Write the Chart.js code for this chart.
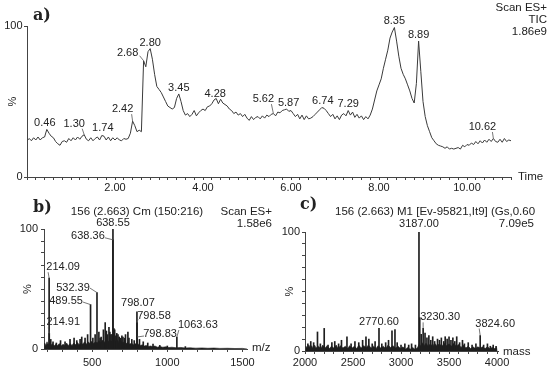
<!DOCTYPE html>
<html>
<head>
<meta charset="utf-8">
<style>
  html, body { margin: 0; padding: 0; background: #fff; }
  #wrap { position: relative; width: 550px; height: 372px; overflow: hidden; }
  canvas { position: absolute; }
  #ca { left: 0; top: 0; }
  #cb { left: 0; top: 190px; }
  #cc { left: 275px; top: 190px; }
</style>
<script src="https://cdn.jsdelivr.net/npm/chart.js@4"></script>
</head>
<body>
<div id="wrap">
  <canvas id="ca" width="550" height="200"></canvas>
  <canvas id="cb" width="275" height="182"></canvas>
  <canvas id="cc" width="275" height="182"></canvas>
</div>
<script>
// a) TIC chromatogram, time (min) vs %
const aTime = [
  0.00, 0.05, 0.10, 0.15, 0.20, 0.25, 0.30, 0.35, 0.40, 0.45,
  0.50, 0.55, 0.60, 0.65, 0.70, 0.75, 0.80, 0.85, 0.90, 0.95,
  1.00, 1.05, 1.10, 1.15, 1.20, 1.25, 1.30, 1.35, 1.40, 1.45,
  1.50, 1.55, 1.60, 1.65, 1.70, 1.75, 1.80, 1.85, 1.90, 1.95,
  2.00, 2.05, 2.10, 2.15, 2.20, 2.25, 2.30, 2.35, 2.40, 2.45,
  2.50, 2.55, 2.60, 2.65, 2.70, 2.75, 2.80, 2.85, 2.90, 2.95,
  3.00, 3.05, 3.10, 3.15, 3.20, 3.25, 3.30, 3.35, 3.40, 3.45,
  3.50, 3.55, 3.60, 3.65, 3.70, 3.75, 3.80, 3.85, 3.90, 3.95,
  4.00, 4.05, 4.10, 4.15, 4.20, 4.25, 4.30, 4.35, 4.40, 4.45,
  4.50, 4.55, 4.60, 4.65, 4.70, 4.75, 4.80, 4.85, 4.90, 4.95,
  5.00, 5.05, 5.10, 5.15, 5.20, 5.25, 5.30, 5.35, 5.40, 5.45,
  5.50, 5.55, 5.60, 5.65, 5.70, 5.75, 5.80, 5.85, 5.90, 5.95,
  6.00, 6.05, 6.10, 6.15, 6.20, 6.25, 6.30, 6.35, 6.40, 6.45,
  6.50, 6.55, 6.60, 6.65, 6.70, 6.75, 6.80, 6.85, 6.90, 6.95,
  7.00, 7.05, 7.10, 7.15, 7.20, 7.25, 7.30, 7.35, 7.40, 7.45,
  7.50, 7.55, 7.60, 7.65, 7.70, 7.75, 7.80, 7.85, 7.90, 7.95,
  8.00, 8.05, 8.10, 8.15, 8.20, 8.25, 8.30, 8.35, 8.40, 8.45,
  8.50, 8.55, 8.60, 8.65, 8.70, 8.75, 8.80, 8.85, 8.90, 8.95,
  9.00, 9.05, 9.10, 9.15, 9.20, 9.25, 9.30, 9.35, 9.40, 9.45,
  9.50, 9.55, 9.60, 9.65, 9.70, 9.75, 9.80, 9.85, 9.90, 9.95,
  10.00, 10.05, 10.10, 10.15, 10.20, 10.25, 10.30, 10.35, 10.40, 10.45,
  10.50, 10.55, 10.60, 10.65, 10.70, 10.75, 10.80, 10.85, 10.90, 10.95,
  11.00
];
const aPct = [
  24, 25.5, 24, 26, 24.5, 26.5, 24.5, 26, 26.5, 31.5,
  29, 27, 26, 23.5, 22, 21, 23.5, 24, 23, 25.5,
  24, 26, 24.5, 26.5, 25, 27, 28, 25, 24, 26,
  24, 25.5, 26.5, 24.5, 27.5, 27, 24.5, 26.5, 24, 26,
  24.5, 26, 24.5, 24, 25.5, 25, 25.5, 29, 37, 34,
  30, 31, 30, 77, 73, 83, 85, 78, 68, 60,
  58, 56, 53, 50, 47, 46, 45, 46, 52, 55,
  50, 44, 41, 42, 40, 41.5, 44, 40.5, 42.5, 44,
  45, 44, 46.5, 47, 48.5, 51, 52, 48.5, 51.5, 49,
  48, 47, 45, 44, 42, 43, 41, 42, 40, 41.5,
  39, 37.5, 40, 38, 39.5, 40, 38.5, 40.5, 39, 41,
  40, 41.5, 42, 40.5, 43, 42.5, 44, 44.5, 45, 43.5,
  44, 42, 40, 41.5, 38.5, 41, 38, 40.5, 38.5, 39,
  40, 41.5, 43, 44.5, 46, 45.5, 44, 42, 40, 41.5,
  38.5, 40.5, 38, 41, 42, 40.5, 44, 41, 43, 39.5,
  41.5, 39, 40.5, 38, 40, 38.5, 41, 45, 51, 57,
  61, 65, 72, 78, 84, 92, 96, 99, 90, 80,
  72, 68, 65, 61, 57, 52, 49, 62, 90, 70,
  50, 40, 34, 30, 26, 24, 22, 21, 20.5, 20,
  19, 20, 18.5, 19, 18.5, 19, 19.5, 18.5, 21, 20,
  21.5, 21, 22.5, 21.5, 23.5, 22, 24, 22.5, 24.5, 23,
  25, 23.5, 25.5, 23.5, 23, 25, 23, 25.5, 23.5, 24.5,
  24
];
const aXLabels = [2, 4, 6, 8, 10];

// b) ES+ spectrum, m/z vs %
const bMz = [214.09, 214.91, 225, 240, 262, 290, 320, 353, 380, 398,
  420, 431, 453, 470, 489.55, 505, 520, 532.39, 545, 553,
  560, 575, 587, 595, 602, 612, 618, 625, 632, 638.36,
  638.55, 645, 650, 658, 664, 672, 680, 690, 698, 705,
  715, 722, 738, 745, 764, 780, 798.07, 798.58, 798.83, 815,
  840, 870, 905, 950, 1000, 1063.63, 1120];
const bInt = [59, 13, 8, 6, 5, 7, 6, 8, 9, 7,
  8, 10, 9, 12, 37, 9, 12, 47, 14, 9,
  10, 16, 22, 15, 12, 18, 14, 12, 12, 91,
  100, 17, 16, 11, 13, 12, 10, 9, 11, 10,
  9, 12, 14, 9, 8, 7, 31, 22, 10, 8,
  6, 5, 4, 3, 2.5, 10, 2];
const bNoiseMz = [180, 184, 192, 200, 208, 216, 226, 236, 246, 258, 270, 282, 294, 306, 318,
  330, 342, 354, 366, 378, 390, 402, 414, 426, 438, 450, 462, 474, 486, 498,
  510, 522, 534, 546, 558, 570, 582, 594, 606, 618, 630, 642, 654, 666, 678,
  690, 702, 714, 726, 738, 750, 762, 774, 786, 798, 810, 822, 834, 846, 860,
  874, 888, 902, 918, 934, 950, 970, 990, 1010, 1030, 1060, 1090, 1120, 1150, 1190,
  1230, 1270, 1310, 1350, 1400, 1450, 1500, 1530];
const bNoise = [0, 5, 3, 6, 3.5, 5, 3, 4.5, 2.5, 4, 3, 4.5, 2.5, 4, 3,
  5, 3, 4.5, 3, 5, 3.5, 5.5, 3.5, 5, 4, 6, 4, 6, 4.5, 6.5,
  4.5, 6, 5, 7, 5, 7.5, 5.5, 8, 6, 7.5, 6, 9, 6.5, 8, 5.5,
  7, 5, 6, 4.5, 5.5, 4, 5, 3.5, 4.5, 3.5, 4, 3, 3.5, 2.5, 3,
  2, 2.5, 2, 2.5, 1.5, 2, 1.5, 1.8, 1.2, 1.5, 1, 1.3, 0.8, 1, 0.7,
  0.9, 0.6, 0.8, 0.5, 0.6, 0.4, 0.5, 0];
const bXLabels = [500, 1000, 1500];

// c) deconvoluted (M1) spectrum, mass vs %
const cMass = [2030, 2060, 2090, 2130, 2160, 2200, 2240, 2280, 2310, 2350,
  2380, 2437, 2480, 2520, 2560, 2600, 2635, 2665, 2700, 2730,
  2770.6, 2800, 2840, 2870, 2906, 2937, 2960, 3000, 3040, 3080,
  3110, 3150, 3187, 3195, 3210, 3230.3, 3250, 3270, 3290, 3310,
  3330, 3350, 3380, 3400, 3420, 3445, 3460, 3480, 3500, 3520,
  3540, 3560, 3580, 3610, 3640, 3660, 3700, 3740, 3780, 3824.6,
  3860, 3900, 3930, 3960, 3990];
const cInt = [6, 8, 7, 16, 6, 19, 5, 7, 8, 6,
  9, 12, 6, 8, 7, 9, 12, 10, 6, 8,
  19, 6, 7, 9, 17, 18, 7, 5, 6, 5,
  6, 5, 100, 28, 14, 19, 15, 11, 13, 9,
  12, 8, 10, 9, 11, 8, 12, 10, 12, 9,
  11, 8, 12, 7, 9, 6, 7, 5, 6, 13,
  5, 6, 4, 5, 4];
const cNoiseMass = [2000, 2010, 2025, 2040, 2055, 2070, 2085, 2100, 2115, 2140, 2165, 2185, 2210, 2230, 2255,
  2275, 2300, 2325, 2345, 2370, 2395, 2420, 2445, 2465, 2490, 2515, 2540, 2560, 2585, 2610,
  2640, 2660, 2690, 2715, 2740, 2760, 2790, 2815, 2840, 2865, 2890, 2915, 2945, 2970, 2995,
  3020, 3045, 3070, 3095, 3120, 3145, 3170, 3190, 3205, 3220, 3240, 3260, 3285, 3305, 3330,
  3350, 3375, 3400, 3425, 3450, 3475, 3500, 3525, 3550, 3575, 3600, 3625, 3650, 3675, 3700,
  3725, 3750, 3775, 3800, 3825, 3850, 3875, 3900, 3925, 3950, 3975, 3995, 4000];
const cNoise = [0, 4, 2, 5, 2.5, 4.5, 2, 5, 2.5, 4, 2, 5, 2.5, 4.5, 2,
  4, 2.5, 5, 2, 4.5, 2.5, 4, 2, 4.5, 2.5, 4, 2, 5, 2.5, 4.5,
  3, 5, 2.5, 4, 2, 4.5, 2.5, 4, 2, 5, 3, 4.5, 2.5, 4, 2,
  3.5, 1.5, 3, 1.5, 3, 1.5, 2.5, 6, 4, 7, 4.5, 6.5, 4, 6, 4,
  6.5, 4.5, 6, 4, 6.5, 4.5, 6, 4, 6.5, 4, 5.5, 3, 5, 2.5, 4,
  2, 3.5, 2, 3.5, 2.5, 3.5, 2, 3.5, 2, 3, 2, 3, 0];
const cXLabels = [2000, 2500, 3000, 3500, 4000];

const pctTicks = [0, 10, 20, 30, 40, 50, 60, 70, 80, 90, 100];

const AXIS = '#444';
const INK = '#1e1e1e';
const LABEL_FONT = '11px "Liberation Sans", Arial, sans-serif';
const HEAD_FONT = '11.5px "Liberation Sans", Arial, sans-serif';
const LETTER_FONT = 'bold 16px "DejaVu Serif", serif';

Chart.defaults.font.family = '"Liberation Sans", Arial, sans-serif';
Chart.defaults.font.size = 11;
Chart.defaults.color = '#222';

function nearest(xs, ys, x) {
  let best = 0;
  xs.forEach((v, i) => { if (Math.abs(v - x) < Math.abs(xs[best] - x)) best = i; });
  return ys[best];
}

// peak labels + free text, drawn on top of each chart
function labelPlugin(peaks, texts, xs, ys) {
  return {
    id: 'peakText',
    afterDraw(chart) {
      const ctx = chart.ctx, sx = chart.scales.x, sy = chart.scales.y, area = chart.chartArea;
      ctx.save();
      ctx.fillStyle = '#222';
      ctx.strokeStyle = '#555';
      ctx.lineWidth = 0.8;
      ctx.textBaseline = 'middle';
      ctx.font = LABEL_FONT;
      ctx.textAlign = 'center';
      peaks.forEach(p => {
        const val = p.y !== undefined ? p.y : nearest(xs, ys, p.at);
        const px = sx.getPixelForValue(p.at), py = sy.getPixelForValue(val);
        const tx = px + p.dx, ty = py + p.dy;
        if (p.lead) {
          ctx.beginPath();
          ctx.moveTo(tx + p.lead[0], ty + p.lead[1]);
          ctx.lineTo(px, py);
          ctx.stroke();
        }
        ctx.fillText(p.text, tx, ty);
      });
      texts.forEach(t => {
        ctx.font = t.font || HEAD_FONT;
        ctx.textAlign = t.align || 'left';
        let x = t.x, y = t.y;
        if (t.corner) { x = area.right + t.x; y = area.bottom + t.y; }
        ctx.save();
        if (t.clip) { ctx.beginPath(); ctx.rect(0, 0, t.clip, chart.height); ctx.clip(); }
        ctx.fillText(t.text, x, y);
        ctx.restore();
      });
      ctx.restore();
    }
  };
}

function xScale(min, max, height, pad, ticks, fmt) {
  return {
    type: 'linear', min, max, offset: false,
    afterFit: s => { s.height = height; },
    afterBuildTicks: s => { s.ticks = ticks.map(v => ({ value: v })); },
    ticks: { autoSkip: false, maxRotation: 0, padding: pad, callback: fmt },
    grid: { drawOnChartArea: false, offset: false, tickLength: 3, color: AXIS },
    border: { color: AXIS }
  };
}

function yScale(width, pad, titlePad, ticks) {
  return {
    min: 0, max: 100,
    afterFit: s => { s.width = width; },
    afterBuildTicks: s => { s.ticks = ticks.map(v => ({ value: v })); },
    ticks: { autoSkip: false, padding: pad, callback: v => (v === 0 || v === 100) ? String(v) : '' },
    grid: { drawOnChartArea: false, tickLength: 3, color: AXIS },
    border: { color: AXIS },
    title: { display: true, text: '%', padding: titlePad, font: { size: 11 } }
  };
}

const baseOptions = {
  responsive: false,
  animation: false,
  events: [],
  plugins: { legend: { display: false }, tooltip: { enabled: false } }
};

// ---- a)
const aTicks = [];
for (let i = 0; i <= 55; i++) aTicks.push(Math.round(i * 2) / 10);

const aPeaks = [
  { text: '0.46', at: 0.45, dx: -2, dy: -6 },
  { text: '1.30', at: 1.30, dx: -10, dy: -11, lead: [8, 5] },
  { text: '1.74', at: 1.70, dx: 1, dy: -7.5 },
  { text: '2.42', at: 2.40, dx: -10, dy: -12, lead: [9, 5] },
  { text: '2.68', at: 2.65, dx: -16, dy: -8, lead: [12, 3] },
  { text: '2.80', at: 2.80, dx: 0, dy: -6 },
  { text: '3.45', at: 3.45, dx: 0, dy: -6 },
  { text: '4.28', at: 4.30, dx: -1, dy: -5 },
  { text: '5.62', at: 5.60, dx: -10, dy: -14.5, lead: [8, 5] },
  { text: '5.87', at: 5.90, dx: 2, dy: -6 },
  { text: '6.74', at: 6.70, dx: 1, dy: -6.5 },
  { text: '7.29', at: 7.30, dx: 0, dy: -6.5 },
  { text: '8.35', at: 8.35, dx: 0, dy: -7 },
  { text: '8.89', at: 8.90, dx: 0, dy: -6 },
  { text: '10.62', at: 10.60, dx: -11, dy: -11.5, lead: [10, 5] }
];
const aTexts = [
  { text: 'a)', x: 33, y: 16, font: LETTER_FONT },
  { text: 'Scan ES+', x: 547, y: 8, align: 'right' },
  { text: 'TIC', x: 547, y: 20, align: 'right' },
  { text: '1.86e9', x: 547, y: 32, align: 'right' },
  { text: 'Time', corner: true, x: 7, y: 0 }
];

new Chart(document.getElementById('ca'), {
  type: 'line',
  data: {
    datasets: [{
      data: aTime.map((t, i) => ({ x: t, y: aPct[i] })),
      borderColor: '#3a3a3a', borderWidth: 1, pointRadius: 0, tension: 0, fill: false
    }]
  },
  options: {
    ...baseOptions,
    layout: { autoPadding: false, padding: { left: 0, top: 26, right: 39, bottom: 0 } },
    scales: {
      x: xScale(0, 11, 23, 1.5, aTicks, v => aXLabels.includes(v) ? v.toFixed(2) : ''),
      y: yScale(27, 1.5, 6.4, [0, 100])
    }
  },
  plugins: [labelPlugin(aPeaks, aTexts, aTime, aPct)]
});

// ---- b)
const bTicks = [];
for (let v = 200; v <= 1500; v += 100) bTicks.push(v);

const bPeaks = [
  { text: '638.55', at: 638.55, dx: 0, dy: -6 },
  { text: '638.36', at: 638.36, dx: -25, dy: -4, lead: [17, 2] },
  { text: '214.09', at: 214.09, dx: 14, dy: -11, lead: [-15, 5] },
  { text: '532.39', at: 532.39, dx: -24, dy: -4.5, lead: [17, 0] },
  { text: '489.55', at: 489.55, dx: -24.5, dy: -3.5, lead: [17, 1] },
  { text: '214.91', at: 214.91, dx: 14, dy: -11, lead: [-15, 5] },
  { text: '798.07', at: 798.07, dx: 1, dy: -9 },
  { text: '798.58', at: 798.58, dx: 17, dy: -6.5, lead: [-16, 3] },
  { text: '798.83', at: 798.83, dx: 23, dy: -3, lead: [-16, 2] },
  { text: '1063.63', at: 1063.63, dx: 21, dy: -12, lead: [-19, 5] }
];
const bTexts = [
  { text: 'b)', x: 33, y: 17.5, font: LETTER_FONT },
  { text: '156 (2.663) Cm (150:216)', x: 137, y: 22, align: 'center' },
  { text: 'Scan ES+', x: 272, y: 22, align: 'right' },
  { text: '1.58e6', x: 272, y: 33.5, align: 'right' },
  { text: 'm/z', corner: true, x: 5, y: -1 }
];

new Chart(document.getElementById('cb'), {
  type: 'bar',
  data: {
    datasets: [
      {
        type: 'bar', order: 1,
        data: bMz.map((m, i) => ({ x: m, y: bInt[i] })),
        backgroundColor: INK, barThickness: 1, borderWidth: 0
      },
      {
        type: 'line', order: 2,
        data: bNoiseMz.map((m, i) => ({ x: m, y: bNoise[i] })),
        borderColor: INK, backgroundColor: INK, borderWidth: 0.6,
        pointRadius: 0, tension: 0, fill: 'origin'
      }
    ]
  },
  options: {
    ...baseOptions,
    layout: { autoPadding: false, padding: { left: 0, top: 39, right: 28, bottom: 0 } },
    scales: {
      x: xScale(180, 1530, 23, 4, bTicks, v => bXLabels.includes(v) ? String(v) : ''),
      y: yScale(44, 3, 21.4, pctTicks)
    }
  },
  plugins: [labelPlugin(bPeaks, bTexts, bMz, bInt)]
});

// ---- c)
const cTicks = [];
for (let v = 2000; v <= 4000; v += 100) cTicks.push(v);

const cPeaks = [
  { text: '3187.00', at: 3187, dx: 0, dy: -8 },
  { text: '2770.60', at: 2770.6, dx: 0, dy: -6.5 },
  { text: '3230.30', at: 3230.3, dx: 17, dy: -11, lead: [-17, 5] },
  { text: '3824.60', at: 3824.6, dx: 15, dy: -12, lead: [-16, 5] }
];
const cTexts = [
  { text: 'c)', x: 25, y: 15, font: LETTER_FONT },
  { text: '156 (2.663) M1 [Ev-95821,It9] (Gs,0.60', x: 60, y: 22, clip: 262 },
  { text: '7.09e5', x: 259, y: 34, align: 'right' },
  { text: 'mass', corner: true, x: 5, y: 1 }
];

new Chart(document.getElementById('cc'), {
  type: 'bar',
  data: {
    datasets: [
      {
        type: 'bar', order: 1,
        data: cMass.map((m, i) => ({ x: m, y: cInt[i] })),
        backgroundColor: INK, barThickness: 1, borderWidth: 0
      },
      {
        type: 'line', order: 2,
        data: cNoiseMass.map((m, i) => ({ x: m, y: cNoise[i] })),
        borderColor: INK, backgroundColor: INK, borderWidth: 0.6,
        pointRadius: 0, tension: 0, fill: 'origin'
      }
    ]
  },
  options: {
    ...baseOptions,
    layout: { autoPadding: false, padding: { left: 0, top: 42, right: 52, bottom: 0 } },
    scales: {
      x: xScale(2000, 4010, 21, 2.5, cTicks, v => cXLabels.includes(v) ? String(v) : ''),
      y: yScale(30, 2, 8.4, pctTicks)
    }
  },
  plugins: [labelPlugin(cPeaks, cTexts, cMass, cInt)]
});
</script>
</body>
</html>
